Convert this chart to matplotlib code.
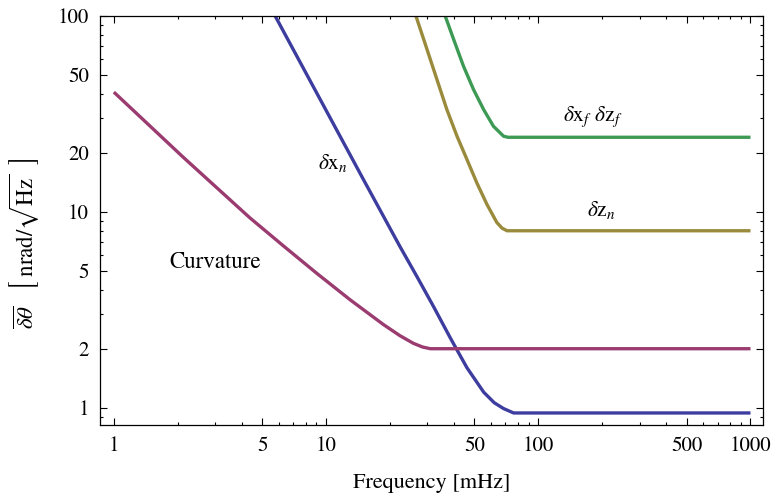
import numpy as np
import matplotlib
matplotlib.use('Agg')
import matplotlib.pyplot as plt
from matplotlib.ticker import FixedLocator, FixedFormatter, NullFormatter

plt.rcParams['font.family'] = 'STIXGeneral'
plt.rcParams['mathtext.fontset'] = 'stix'

# noise curves, frequency in mHz, amplitude in nrad/sqrt(Hz)
curv_f = [1, 2.12, 4.38, 6.29, 9.04, 13.0, 18.6, 22.3, 25.8, 28.5, 31.0, 1000]
curv_v = [40.8, 19.0, 9.3, 6.7, 4.85, 3.55, 2.66, 2.33, 2.13, 2.04, 2.0, 2.0]

xn_f = [5.75, 15.0, 22.3, 26.8, 32.1, 38.5, 46.1, 55.3, 62.0, 68.6, 76.5, 1000]
xn_v = [100, 14.6, 6.64, 4.67, 3.28, 2.27, 1.60, 1.20, 1.06, 0.99, 0.94, 0.94]

zn_f = [26.5, 29.9, 33.3, 37.1, 41.4, 46.1, 51.4, 57.3, 63.8, 67.5, 71.2, 1000]
zn_v = [100, 67.4, 47.3, 33.2, 24.3, 18.5, 14.0, 10.9, 8.81, 8.25, 8.0, 8.0]

xf_f = [36.4, 39.9, 44.4, 49.5, 55.3, 61.5, 68.6, 72.0, 1000]
xf_v = [100, 75.9, 55.4, 42.1, 33.2, 27.3, 24.3, 24.0, 24.0]

x_major = [1, 5, 10, 50, 100, 500, 1000]
y_major = [1, 2, 5, 10, 20, 50, 100]

fig = plt.figure(figsize=(7.75, 4.95), dpi=100)
ax = fig.add_axes([0.129, 0.141, 0.856, 0.827])

lw = 2.4
ax.plot(xn_f, xn_v, color='#3d3da0', lw=lw, solid_capstyle='butt', solid_joinstyle='round')
ax.plot(curv_f, curv_v, color='#9b3c70', lw=lw, solid_capstyle='butt', solid_joinstyle='round')
ax.plot(zn_f, zn_v, color='#9a8a3c', lw=lw, solid_capstyle='butt', solid_joinstyle='round')
ax.plot(xf_f, xf_v, color='#3d9a55', lw=lw, solid_capstyle='butt', solid_joinstyle='round')

ax.set_xscale('log')
ax.set_yscale('log')
ax.set_xlim(0.86, 1150)
ax.set_ylim(0.814, 100)

x_minor = [m * d for d in [1, 10, 100] for m in range(2, 10) if m != 5]
y_minor = [0.9] + [m * d for d in [1, 10] for m in range(3, 10) if m != 5]

ax.xaxis.set_major_locator(FixedLocator(x_major))
ax.xaxis.set_major_formatter(FixedFormatter([str(v) for v in x_major]))
ax.xaxis.set_minor_locator(FixedLocator(x_minor))
ax.xaxis.set_minor_formatter(NullFormatter())
ax.yaxis.set_major_locator(FixedLocator(y_major))
ax.yaxis.set_major_formatter(FixedFormatter([str(v) for v in y_major]))
ax.yaxis.set_minor_locator(FixedLocator(y_minor))
ax.yaxis.set_minor_formatter(NullFormatter())

ax.tick_params(which='both', direction='in', top=True, right=True, width=0.8,
               labelsize=15, pad=8)
ax.tick_params(which='major', length=5)
ax.tick_params(which='minor', length=2.5)
for s in ax.spines.values():
    s.set_linewidth(0.9)

ax.set_xlabel('Frequency [mHz]', fontsize=16, labelpad=12)
ax.set_ylabel(r'$\overline{\delta\theta}\quad\left[\ \mathrm{nrad}/\sqrt{\mathrm{Hz}}\ \ \right]$',
              fontsize=16.5)
ax.yaxis.set_label_coords(-0.088, 0.445)

ax.text(3.0, 5.55, 'Curvature', fontsize=16.5, ha='center', va='center')
ax.text(10.8, 17.8, r'$\delta\mathrm{x}_n$', fontsize=15.5, ha='center', va='center')
ax.text(180, 30.7, r'$\delta\mathrm{x}_f\ \delta\mathrm{z}_f$', fontsize=15.5,
        ha='center', va='center')
ax.text(198, 10.2, r'$\delta\mathrm{z}_n$', fontsize=15.5, ha='center', va='center')

fig.savefig('out.png', dpi=100)
